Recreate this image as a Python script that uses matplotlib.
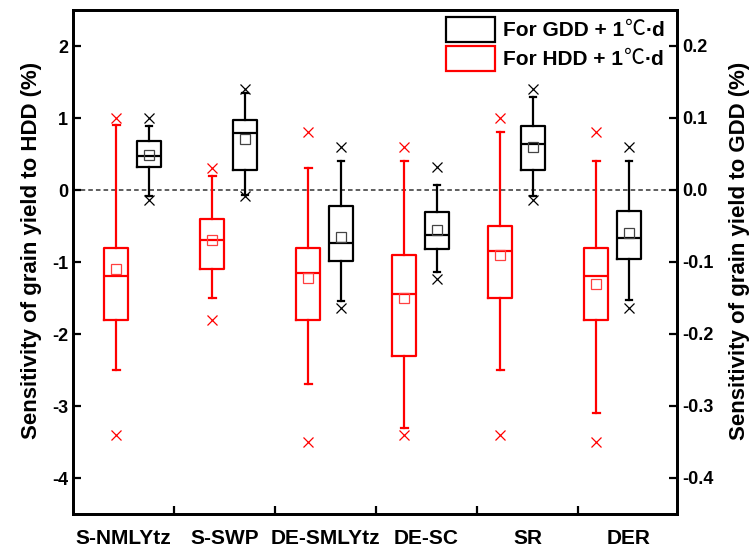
import numpy as np
import matplotlib
matplotlib.use("Agg")
import matplotlib.pyplot as plt
from matplotlib.patches import Patch

plt.rcParams['font.family'] = ['Liberation Sans', 'Noto Sans CJK SC', 'DejaVu Sans']
plt.rcParams['font.weight'] = 'bold'
plt.rcParams['axes.unicode_minus'] = False

regions = ["S-NMLYtz", "S-SWP", "DE-SMLYtz", "DE-SC", "SR", "DER"]

# HDD sensitivity (left axis, %)
hdd_whishi = [0.9, 0.19, 0.3, 0.4, 0.8, 0.4]
hdd_q3 = [-0.8, -0.4, -0.8, -0.9, -0.5, -0.8]
hdd_med = [-1.2, -0.7, -1.15, -1.45, -0.85, -1.2]
hdd_mean = [-1.1, -0.7, -1.22, -1.5, -0.9, -1.3]
hdd_q1 = [-1.8, -1.1, -1.8, -2.3, -1.5, -1.8]
hdd_whislo = [-2.5, -1.5, -2.7, -3.3, -2.5, -3.1]
hdd_out_hi = [1.0, 0.3, 0.8, 0.6, 1.0, 0.8]
hdd_out_lo = [-3.4, -1.8, -3.5, -3.4, -3.4, -3.5]

# GDD sensitivity (right axis, %)
gdd_whishi = [0.089, 0.135, 0.04, 0.007, 0.129, 0.04]
gdd_q3 = [0.068, 0.097, -0.022, -0.031, 0.089, -0.029]
gdd_med = [0.047, 0.079, -0.073, -0.062, 0.064, -0.067]
gdd_mean = [0.048, 0.071, -0.065, -0.056, 0.06, -0.06]
gdd_q1 = [0.032, 0.028, -0.098, -0.082, 0.028, -0.096]
gdd_whislo = [-0.008, -0.007, -0.154, -0.114, -0.008, -0.153]
gdd_out_hi = [0.1, 0.14, 0.06, 0.032, 0.14, 0.06]
gdd_out_lo = [-0.014, -0.009, -0.164, -0.124, -0.014, -0.164]


def make_stats(lo, q1, med, mean, q3, hi, olo, ohi):
    return [dict(whislo=a, q1=b, med=c, mean=d, q3=e, whishi=f, fliers=[g, h])
            for a, b, c, d, e, f, g, h in zip(lo, q1, med, mean, q3, hi, olo, ohi)]


W, H = 755, 548
fig = plt.figure(figsize=(W / 100, H / 100), dpi=100)
ax = fig.add_axes([73 / W, 34 / H, 604 / W, 504 / H])
ax2 = ax.twinx()

n = len(regions)
pos = np.arange(n) + 0.6225
cat_w = 1.0521
w = 0.25


def draw(axis, stats, positions, color, meancolor):
    axis.bxp(stats, positions=positions, widths=w, showmeans=True,
             boxprops=dict(color=color, lw=1.6),
             medianprops=dict(color=color, lw=1.6),
             whiskerprops=dict(color=color, lw=1.6),
             capprops=dict(color=color, lw=1.6),
             capwidths=0.07,
             meanprops=dict(marker='s', markerfacecolor='none',
                            markeredgecolor=meancolor, markersize=7, markeredgewidth=0.9),
             flierprops=dict(marker='x', markeredgecolor=color, markersize=7,
                             markeredgewidth=0.9),
             manage_ticks=False)


draw(ax, make_stats(hdd_whislo, hdd_q1, hdd_med, hdd_mean, hdd_q3, hdd_whishi,
                    hdd_out_lo, hdd_out_hi), pos - 0.17, 'red', '#ff4040')
draw(ax2, make_stats(gdd_whislo, gdd_q1, gdd_med, gdd_mean, gdd_q3, gdd_whishi,
                     gdd_out_lo, gdd_out_hi), pos + 0.17, 'black', '#444444')

ax.axhline(0, color='#333333', lw=1.1, ls=(0, (3, 2)), zorder=0)

ax.set_xlim(0, 604 / 96)
ax.set_ylim(-4.5, 2.5)
ax2.set_ylim(-0.45, 0.25)
ax.set_yticks([-4, -3, -2, -1, 0, 1, 2])
ax2.set_yticks([-0.4, -0.3, -0.2, -0.1, 0.0, 0.1, 0.2])
ax2.set_yticklabels(["-0.4", "-0.3", "-0.2", "-0.1", "0.0", "0.1", "0.2"])

ax.set_xticks([cat_w * k for k in range(1, n)])
ax.set_xticklabels([])
ax.set_xticks([cat_w * (k + 0.5) for k in range(n)], minor=True)
ax.set_xticklabels(regions, minor=True, fontsize=15, fontweight='bold')
ax.tick_params(axis='x', which='major', direction='in', length=6, width=1.6, top=False)
ax.tick_params(axis='x', which='minor', length=0, pad=11)
ax.tick_params(axis='y', direction='in', length=6, width=1.6, labelsize=13)
ax2.tick_params(axis='y', direction='in', length=6, width=1.6, labelsize=13)

for a in (ax, ax2):
    for s in a.spines.values():
        s.set_linewidth(2)

ax.set_ylabel("Sensitivity of grain yield to HDD (%)", fontsize=16, fontweight='bold', labelpad=7)
ax2.set_ylabel("Sensitivity of grain yield to GDD (%)", fontsize=16, fontweight='bold', labelpad=11)
ax.yaxis.label.set_y(0.522)
ax2.yaxis.label.set_y(0.522)

handles = [Patch(facecolor='none', edgecolor='black', lw=1.6),
           Patch(facecolor='none', edgecolor='red', lw=1.6)]
leg = ax2.legend(handles, ["For GDD + 1", "For HDD + 1"],
                 loc='upper left', bbox_to_anchor=(446 / W, 1 - 17 / H),
                 bbox_transform=fig.transFigure, frameon=False,
                 handlelength=2.35, handleheight=1.47, handletextpad=0.38,
                 labelspacing=0.19, borderpad=0, borderaxespad=0,
                 prop=dict(weight='bold', size=15))

# degree sign and unit in a CJK face, appended after each legend label
fig.canvas.draw()
r = fig.canvas.get_renderer()
for t in leg.get_texts():
    bb = t.get_window_extent(r)
    c = fig.text(bb.x1 / W + 1 / W, bb.y0 / H, "\u2103", fontsize=15, fontweight='normal',
                 family=['Noto Sans CJK SC'], va='bottom', ha='left')
    cb = c.get_window_extent(r)
    fig.text(cb.x1 / W, bb.y0 / H, "\u00b7d", fontsize=15, fontweight='bold',
             va='bottom', ha='left')

fig.savefig("out.png", dpi=100)
